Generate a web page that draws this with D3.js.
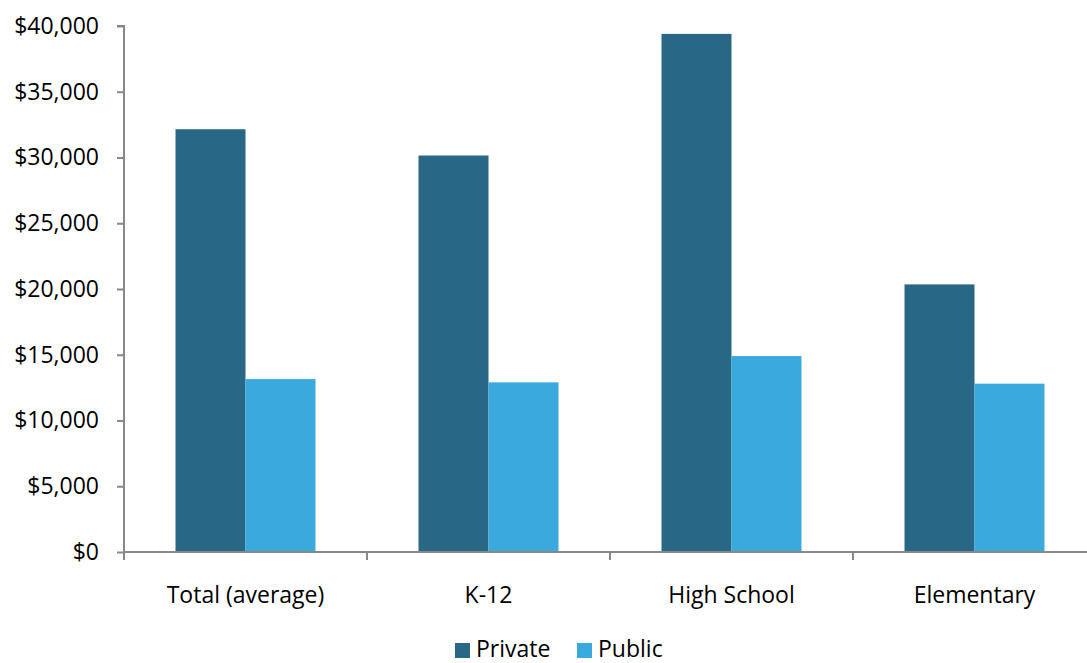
<!DOCTYPE html>
<html>
<head>
<meta charset="utf-8">
<script src="https://cdn.jsdelivr.net/npm/d3@7"></script>
<style>
  html, body { margin: 0; padding: 0; background: #fff; }
  svg text { font-family: "Open Sans", sans-serif; fill: #000; }
</style>
</head>
<body>
<svg id="chart" width="1087" height="663"></svg>
<script>
// Average annual cost per student by school type
const categories = ["Total (average)", "K-12", "High School", "Elementary"];
const seriesNames = ["Private", "Public"];
const privateValues = [32150, 30150, 39400, 20350];
const publicValues = [13150, 12900, 14900, 12800];
const yTicks = [0, 5000, 10000, 15000, 20000, 25000, 30000, 35000, 40000];
const colors = ["#286785", "#3AA9DD"];

const fontSize = 23;
const svg = d3.select("#chart");
const margin = { left: 124, top: 26, bottom: 552, right: 1096 };

const x = d3.scaleBand().domain(categories).range([margin.left, margin.right]).padding(0);
const y = d3.scaleLinear().domain([0, 40000]).range([margin.bottom, margin.top]);
const sub = d3.scaleBand().domain(seriesNames)
  .range([0, x.bandwidth()]).paddingInner(0).paddingOuter(0.736);

const axisColor = "#888";

// Bars
const rows = categories.map((c, i) => ({ cat: c, vals: [privateValues[i], publicValues[i]] }));
const groups = svg.append("g").selectAll("g").data(rows).join("g")
  .attr("transform", d => `translate(${x(d.cat)},0)`);
groups.selectAll("rect").data(d => d.vals.map((v, j) => ({ v, s: seriesNames[j], j })))
  .join("rect")
  .attr("x", d => sub(d.s))
  .attr("width", sub.bandwidth())
  .attr("y", d => y(d.v))
  .attr("height", d => y(0) - y(d.v))
  .attr("fill", d => colors[d.j]);

// Y axis
const yAxis = d3.axisLeft(y).tickValues(yTicks).tickSize(7).tickPadding(18)
  .tickFormat(d => "$" + d3.format(",")(d));
const gy = svg.append("g").attr("transform", `translate(${margin.left},0)`).call(yAxis);
gy.select(".domain").attr("stroke", axisColor).attr("stroke-width", 2)
  .attr("d", `M-7,${y(40000)}H0V${y(0)}`);
gy.selectAll(".tick line").attr("stroke", axisColor).attr("stroke-width", 2);
gy.selectAll(".tick text").attr("font-size", fontSize).attr("font-family", "'Open Sans', sans-serif");

// X axis with category separators
const boundaries = categories.map(c => x(c)).concat([margin.right]);
const gx = svg.append("g");
gx.append("line").attr("x1", margin.left).attr("x2", margin.right)
  .attr("y1", y(0)).attr("y2", y(0)).attr("stroke", axisColor).attr("stroke-width", 2);
gx.selectAll("line.sep").data(boundaries).join("line").attr("class", "sep")
  .attr("x1", d => d).attr("x2", d => d)
  .attr("y1", y(0)).attr("y2", y(0) + 8)
  .attr("stroke", axisColor).attr("stroke-width", 2);
gx.selectAll("text").data(categories).join("text")
  .attr("x", d => x(d) + x.bandwidth() / 2)
  .attr("y", 603)
  .attr("text-anchor", "middle")
  .attr("font-size", fontSize)
  .text(d => d);

// Legend
const legendItems = [{ name: "Private", x: 455 }, { name: "Public", x: 577 }];
const lg = svg.append("g").selectAll("g").data(legendItems).join("g")
  .attr("transform", d => `translate(${d.x},0)`);
lg.append("rect").attr("x", 0).attr("y", 643).attr("width", 15).attr("height", 15)
  .attr("fill", (d, i) => colors[i]);
lg.append("text").attr("x", 21).attr("y", 657).attr("font-size", fontSize).text(d => d.name);
</script>
</body>
</html>
